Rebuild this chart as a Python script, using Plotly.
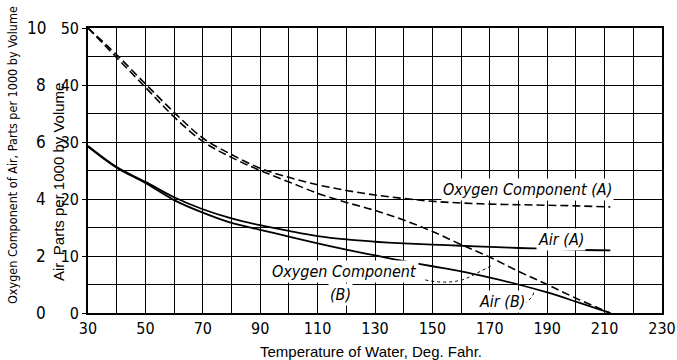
import plotly.graph_objects as go

# Temperature of water, deg. Fahr.
temp = [30, 40, 50, 60, 70, 80, 90, 100, 110, 120, 130, 140, 150, 160, 170, 180, 190, 200, 212]

# Air, parts per 1000 by volume
air_a = [29.3, 25.6, 23.0, 20.3, 18.2, 16.6, 15.4, 14.4, 13.5, 12.9, 12.5, 12.2, 12.0, 11.8, 11.6, 11.4, 11.3, 11.1, 11.0]
air_b = [29.2, 25.5, 22.8, 19.8, 17.6, 15.8, 14.6, 13.4, 12.2, 11.1, 10.1, 9.1, 8.2, 7.3, 6.2, 5.0, 3.6, 2.0, 0.0]

# Oxygen component of air, parts per 1000 by volume
oxy_a = [10.0, 9.06, 8.04, 7.04, 6.14, 5.56, 5.08, 4.76, 4.50, 4.30, 4.14, 4.02, 3.92, 3.86, 3.82, 3.80, 3.78, 3.76, 3.72]
oxy_b = [10.0, 8.96, 7.92, 6.88, 6.02, 5.46, 5.00, 4.60, 4.20, 3.88, 3.60, 3.26, 2.86, 2.40, 1.96, 1.46, 1.00, 0.52, 0.0]

x_ticks = [30, 50, 70, 90, 110, 130, 150, 170, 190, 210, 230]
air_ticks = [0, 10, 20, 30, 40, 50]
oxy_ticks = [0, 2, 4, 6, 8, 10]

FONT = "Liberation Sans Narrow, DejaVu Sans Condensed, sans-serif"
FONT2 = "Liberation Sans, DejaVu Sans, sans-serif"
W, H = 677, 360
L_PX, R_PX, T_PX, B_PX = 88, 662, 28, 313

fig = go.Figure()
fig.add_trace(go.Scatter(x=temp, y=air_a, mode="lines", line=dict(color="black", width=1.8, shape="spline"),
                         name="Air (A)", showlegend=False))
fig.add_trace(go.Scatter(x=temp, y=air_b, mode="lines", line=dict(color="black", width=1.8, shape="spline"),
                         name="Air (B)", showlegend=False))
fig.add_trace(go.Scatter(x=temp, y=oxy_a, mode="lines", yaxis="y2",
                         line=dict(color="black", width=1.6, dash="8px,4px", shape="spline"),
                         name="Oxygen Component (A)", showlegend=False))
fig.add_trace(go.Scatter(x=temp, y=oxy_b, mode="lines", yaxis="y2",
                         line=dict(color="black", width=1.6, dash="8px,4px", shape="spline"),
                         name="Oxygen Component (B)", showlegend=False))

grid = dict(showgrid=True, gridcolor="black", gridwidth=1.4)

fig.update_layout(
    width=W, height=H,
    margin=dict(l=0, r=0, t=T_PX, b=H - B_PX, autoexpand=False),
    paper_bgcolor="white", plot_bgcolor="white",
    font=dict(family=FONT, color="black", size=14),
    xaxis=dict(domain=[L_PX / W, R_PX / W], range=[30, 230], tickmode="array", tickvals=x_ticks,
               ticks="", showline=True, mirror=True, linecolor="black", linewidth=1.6,
               zeroline=False, tickfont=dict(size=16), automargin=False,
               minor=dict(dtick=10, tick0=30, **grid), **grid),
    yaxis=dict(range=[0, 50], tickmode="array", tickvals=air_ticks, ticks="outside", ticklen=4,
               tickcolor="black", showline=True, mirror=True, linecolor="black", linewidth=1.6,
               zeroline=False, tickfont=dict(size=16), automargin=False,
               minor=dict(dtick=5, tick0=0, **grid), **grid),
    yaxis2=dict(range=[0, 10], tickmode="array", tickvals=oxy_ticks, overlaying="y", anchor="x",
                side="left", showgrid=False, zeroline=False, showline=False,
                ticks="", showticklabels=False, automargin=False),
)

def px_x(p):
    return p / W

def px_y(p):
    return (B_PX - p) / (B_PX - T_PX)

ann = [
    dict(text="Temperature of Water, Deg. Fahr.", x=px_x(371), y=px_y(351), xref="paper", yref="paper",
         xanchor="center", yanchor="middle", showarrow=False, font=dict(size=15, family=FONT2)),
    dict(text="Air, Parts per 1000 by Volume", x=px_x(58), y=px_y(182), xref="paper", yref="paper",
         xanchor="center", yanchor="middle", showarrow=False, textangle=-90,
         font=dict(size=15, family=FONT2)),
    dict(text="Oxygen Component of Air, Parts per 1000 by Volume", x=px_x(12), y=px_y(155),
         xref="paper", yref="paper", xanchor="center", yanchor="middle", showarrow=False,
         textangle=-90, font=dict(size=12.5)),
    dict(text="<i>Oxygen Component (A)</i>", x=183, y=21.6, xref="x", yref="y", showarrow=False,
         font=dict(size=16), bgcolor="white"),
    dict(text="<i>Air (A)</i>", x=194.8, y=12.9, xref="x", yref="y", showarrow=False, font=dict(size=16),
         bgcolor="white"),
    dict(text="<i>Air (B)</i>", x=174.3, y=2.1, xref="x", yref="y", showarrow=False, font=dict(size=16),
         bgcolor="white"),
    dict(text="<i>Oxygen Component</i>", x=119.5, y=7.2, xref="x", yref="y", showarrow=False,
         font=dict(size=16), bgcolor="white"),
    dict(text="<i>(B)</i>", x=118, y=3.2, xref="x", yref="y", showarrow=False, font=dict(size=16),
         bgcolor="white"),
]
# outer scale: oxygen tick labels placed on the y2 axis scale
for v in oxy_ticks:
    ann.append(dict(text=str(v), x=px_x(48), y=v, xref="paper", yref="y2", xanchor="right",
                    yanchor="middle", showarrow=False, font=dict(size=17)))
fig.update_layout(annotations=ann)

# dotted leader from "Oxygen Component" label to curve (B)
fig.add_shape(type="path", xref="x", yref="y",
              path="M 147.5 5.8 Q 156 4.9 162 6.1 L 171 8.4",
              line=dict(color="black", width=1, dash="dot"))
# small hook next to "Air (B)"
fig.add_shape(type="path", xref="x", yref="y",
              path="M 182 1.6 Q 185 2.6 185.5 3.9",
              line=dict(color="black", width=1, dash="dot"))

fig.write_html("out.html")
